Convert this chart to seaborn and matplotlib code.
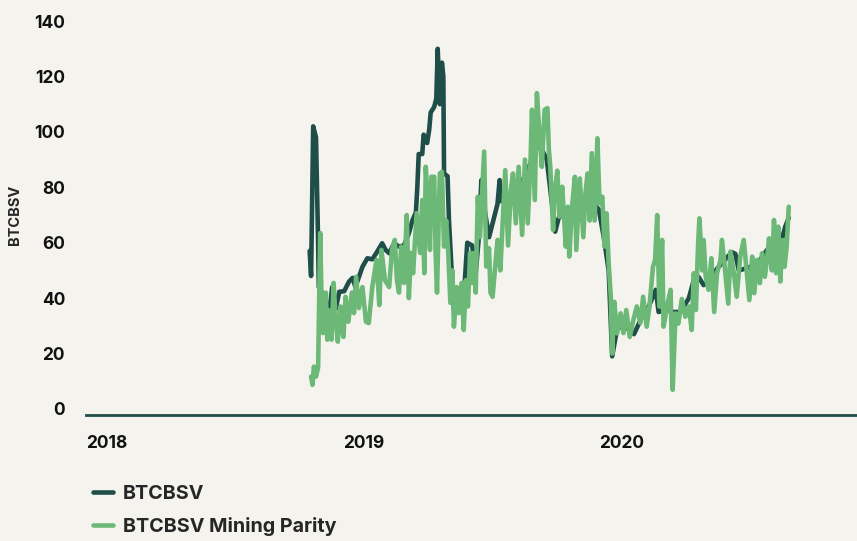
import pandas as pd
import seaborn as sns
import matplotlib.pyplot as plt
from matplotlib.lines import Line2D

# Dias desde el fork (2018-11-15) y valores
fork = pd.Timestamp("2018-11-15")

bsv_days = [0, 2, 5, 9, 12, 13, 22, 26, 29, 32, 37, 42, 49, 56, 61, 65, 75, 82, 89,
            96, 103, 108, 113, 120, 127, 134, 141, 146, 151, 153, 155, 160, 162,
            167, 170, 172, 177, 180, 182, 185, 188, 190, 191, 196, 198, 203, 205,
            212, 219, 224, 231, 236, 241, 244, 248, 255, 262, 267, 270, 272, 283,
            297, 308, 319, 326, 337, 344, 349, 354, 368, 382, 397, 411, 418, 425,
            430, 437, 447, 461, 472, 482, 492, 496, 506, 517, 527, 539, 546, 553,
            560, 570, 577, 586, 600, 605, 610, 624, 638, 650, 662, 671, 676, 681]
bsv_vals = [57, 48, 102, 98, 60, 44, 40, 36, 37, 44, 36, 42.3, 42.5, 46, 47.3, 44,
            51.3, 54.4, 54, 56.8, 59.8, 57.4, 56.2, 59.8, 58.6, 59, 63.4, 68, 71, 80,
            92, 92, 99, 96, 101, 107, 109, 112, 130, 110, 125, 120, 85, 84, 68, 44,
            36, 38, 40, 60, 59, 49, 63.5, 82.6, 73, 62, 69, 74, 82.6, 75, 75, 80,
            85, 92, 96, 90, 75, 64, 69, 72, 74, 76, 72, 62, 50, 19, 29, 30, 27, 33,
            37, 43, 35, 36, 35, 35, 40, 46.5, 47.6, 44.7, 46.5, 50, 52.6, 56.6, 56,
            50, 51, 53, 57.4, 58.5, 61, 65.8, 69]

parity_days = [2, 4, 6, 9, 12, 15, 17, 19, 23, 25, 28, 31, 34, 37, 40, 44, 48, 51,
               55, 60, 63, 66, 70, 75, 80, 84, 89, 95, 99, 102, 107, 113, 117, 121,
               124, 127, 130, 134, 138, 141, 144, 147, 152, 157, 160, 163, 165, 167,
               171, 173, 177, 179, 181, 185, 188, 191, 194, 197, 200, 203, 205, 209,
               212, 216, 219, 222, 225, 228, 231, 233, 236, 239, 242, 248, 251, 255,
               257, 260, 267, 271, 275, 278, 282, 286, 289, 293, 297, 302, 306, 310,
               314, 316, 320, 323, 327, 330, 334, 338, 340, 342, 346, 348, 352, 355,
               359, 364, 367, 369, 373, 377, 379, 384, 389, 392, 395, 398, 401, 405,
               409, 412, 416, 419, 422, 425, 428, 430, 433, 437, 442, 446, 450, 455,
               460, 465, 470, 474, 479, 483, 488, 491, 494, 497, 501, 503, 508, 513,
               516, 520, 524, 529, 534, 539, 543, 546, 549, 552, 554, 558, 560, 563,
               567, 571, 575, 579, 584, 586, 590, 595, 598, 603, 607, 612, 617, 621,
               625, 629, 632, 636, 640, 643, 647, 650, 653, 657, 660, 663, 666, 669,
               672, 675, 678, 681]
parity_vals = [11.7, 8.7, 15.3, 11.7, 15, 63.5, 37, 27.4, 42, 25, 35.5, 25, 45.5, 32,
               24.3, 37, 26, 40.5, 31.5, 42, 34.6, 47.7, 36.4, 44, 31.5, 31, 44, 53.8,
               37.5, 57.4, 46.5, 44, 57.4, 61, 46.5, 42, 58.6, 45.5, 70, 40, 56.3, 49,
               70.7, 56.3, 75.4, 49, 87.4, 78.6, 57.4, 83.8, 83.8, 56.3, 42, 85, 85.6,
               58.6, 68, 56.3, 38.3, 50, 29.7, 44, 34.6, 45.5, 28.5, 46.5, 37, 56.3,
               45.5, 56.3, 42, 76.6, 62, 92.9, 51.4, 58, 42, 40.5, 61, 50, 70.7, 86.2,
               59, 79, 85, 67, 87.4, 62.8, 90, 67, 90, 108, 75.4, 114, 98, 87.4, 108,
               108.6, 93.5, 87.4, 64.6, 77.8, 86, 69.4, 80.2, 58.6, 73, 55, 73, 83.8,
               57.4, 83.2, 62, 77.8, 85, 68, 92.3, 68, 97.7, 74.2, 76.6, 58.6, 70.6,
               52.6, 40.5, 20, 38.7, 27.3, 34.5, 27.4, 35.7, 26, 32, 37, 31, 40.5,
               29.7, 37, 51.3, 53.8, 70, 37, 61, 29.7, 37, 43, 6.9, 34.5, 30.8, 39.7,
               33.3, 37, 28.5, 49, 35.7, 58.6, 68.8, 50, 61, 47.7, 43, 54.4, 35, 49,
               53.8, 61, 51.3, 38, 56.8, 49, 40.5, 55, 61, 50, 39.3, 55, 41.8, 53.8,
               45.4, 56.2, 47.7, 53.8, 61.6, 50, 68.2, 49, 65.8, 46, 61, 51.3, 58.6, 73]

year_ticks = ["2018-01-01", "2019-01-01", "2020-01-01"]
year_labels = ["2018", "2019", "2020"]
y_ticks = [0, 20, 40, 60, 80, 100, 120, 140]

bg = "#f4f3ee"
dark = "#1f4d48"
green = "#6cb877"

df_bsv = pd.DataFrame({"Date": fork + pd.to_timedelta(bsv_days, unit="D"), "Value": bsv_vals})
df_par = pd.DataFrame({"Date": fork + pd.to_timedelta(parity_days, unit="D"), "Value": parity_vals})

sns.set_style("white")
plt.rcParams["font.family"] = ["Inter", "DejaVu Sans"]

fig = plt.figure(figsize=(8.57, 5.41), dpi=100, facecolor=bg)
ax = fig.add_axes([0.1003, 0.2338, 0.8997, 0.7375])
ax.set_facecolor(bg)

sns.lineplot(data=df_bsv, x="Date", y="Value", ax=ax, color=dark, linewidth=3.3)
sns.lineplot(data=df_par, x="Date", y="Value", ax=ax, color=green, linewidth=3.3)

ax.set_xlim(pd.Timestamp("2018-01-01"), pd.Timestamp("2021-01-01"))
ax.set_ylim(-2, 142)
ax.set_xticks(pd.to_datetime(year_ticks))
ax.set_xticklabels(year_labels, ha="left", fontweight="bold", fontsize=12.5)
ax.set_yticks(y_ticks)
ax.set_yticklabels([str(v) for v in y_ticks], fontweight="bold", fontsize=12.5)
ax.tick_params(axis="x", length=0, pad=15, colors="#111111")
ax.tick_params(axis="y", length=0, pad=15, colors="#111111")

ax.set_xlabel("")
ax.set_ylabel("BTCBSV", fontweight="bold", fontsize=10.5, labelpad=9)

for s in ["top", "right", "left"]:
    ax.spines[s].set_visible(False)
ax.spines["bottom"].set_color(dark)
ax.spines["bottom"].set_linewidth(2)

handles = [Line2D([0], [0], color=dark, linewidth=3.3),
           Line2D([0], [0], color=green, linewidth=3.3)]
leg = fig.legend(handles, ["BTCBSV", "BTCBSV Mining Parity"], loc="lower left",
                 bbox_to_anchor=(0.088, -0.024), frameon=False, handlelength=1.0,
                 handletextpad=0.5, labelspacing=0.72,
                 prop={"weight": "bold", "size": 14.2})

plt.savefig("out.png", dpi=100, facecolor=bg)
plt.close()
